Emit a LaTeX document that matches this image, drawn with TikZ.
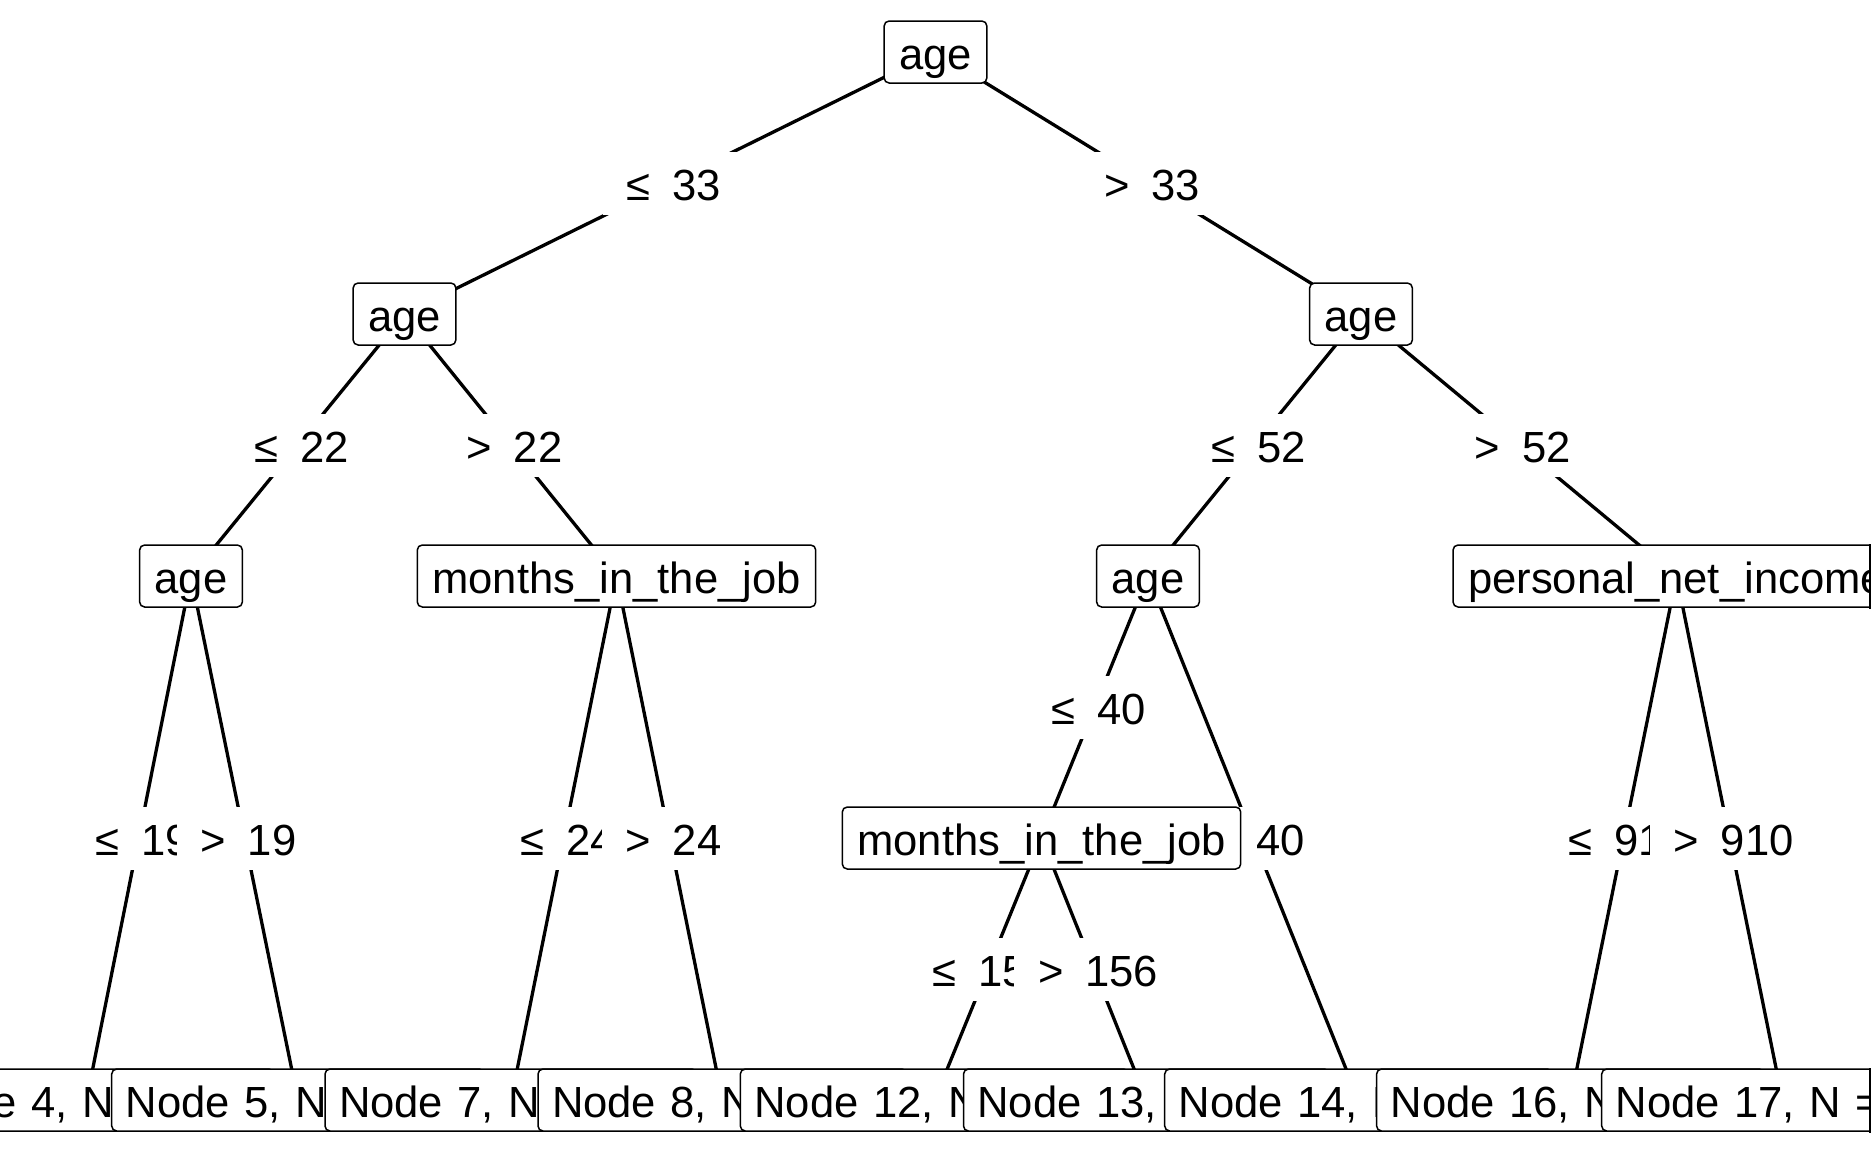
\documentclass[tikz,border=0pt]{standalone}
\usepackage{fontspec}
\setmainfont{Liberation Sans}
\usetikzlibrary{calc}
\pgfdeclarelayer{bglayer}
\pgfdeclarelayer{edgelayer}
\pgfdeclarelayer{labellayer}
\pgfsetlayers{bglayer,edgelayer,labellayer,main}
\begin{document}
\begin{tikzpicture}[x=1pt,y=-1pt,
  every node/.style={font=\fontsize{43.6}{50}\selectfont},
  innerbox/.style={draw, line width=1.5pt, rounded corners=5pt, fill=white,
    inner xsep=15pt, inner ysep=0pt, minimum height=62pt,
    text height=35pt, text depth=0pt},
  leafbox/.style={innerbox, align=left, inner xsep=14pt},
  lbl/.style={fill=white, inner xsep=24pt, inner ysep=0pt, minimum height=63pt,
    text height=35pt, text depth=0pt, xshift=4pt},
  conn/.style={line width=3.3pt}]
\useasboundingbox (0,0) rectangle (1872,1152);
\begin{pgfonlayer}{bglayer}
\fill[white] (0,0) rectangle (1872,1152);
\end{pgfonlayer}
\coordinate (rx) at (1870,0);

% inner nodes
\node[innerbox] (n1) at (935.5,52) {age};
\node[innerbox] (n2) at (404.5,314) {age};
\node[innerbox] (n9) at (1361,314) {age};
\node[innerbox] (n3) at (191,576) {age};
\node[innerbox] (n6) at (616.5,576) {months\_in\_the\_job};
\node[innerbox] (n10) at (1148,576) {age};
\node[innerbox] (n11) at (1041.5,838) {months\_in\_the\_job};
\begin{scope}
  \clip (0,0) rectangle (1870,1152);
  \node[innerbox] (n15) at (1676.5,576) {personal\_net\_income};
\end{scope}
\draw[line width=1.5pt, line cap=rect] (n15.north -| rx) -- (n15.south -| rx);

% terminal nodes (each covers the right part of the previous one)
\node[leafbox, text width=347pt] (t4) at (86.5,1100) {Node 4, N};
\node[leafbox, text width=344.6pt] (t5) at (298,1100) {Node 5, N};
\node[leafbox, text width=344pt] (t7) at (511,1100) {Node 7, N};
\node[leafbox, text width=341pt] (t8) at (722.5,1100) {Node 8, N};
\node[leafbox, text width=360.4pt] (t12) at (934.5,1100) {Node 12, N};
\node[leafbox, text width=338pt] (t13) at (1146.5,1100) {Node 13, N};
\node[leafbox, text width=359.6pt] (t14) at (1358.5,1100) {Node 14, N};
\node[leafbox, text width=359.8pt] (t16) at (1570.5,1100) {Node 16, N};
\begin{scope}
  \clip (0,0) rectangle (1870,1152);
  \node[leafbox, text width=333.6pt] (t17) at (1782.5,1100) {Node 17, N =};
\end{scope}
\draw[line width=1.5pt, line cap=rect] (t17.north -| rx) -- (t17.south -| rx);

% connectors
\begin{pgfonlayer}{edgelayer}
\draw[conn] (n1.center) -- (n2.center);
\draw[conn] (n1.center) -- (n9.center);
\draw[conn] (n2.center) -- (n3.center);
\draw[conn] (n2.center) -- (n6.center);
\draw[conn] (n3.center) -- (t4.center);
\draw[conn] (n3.center) -- (t5.center);
\draw[conn] (n6.center) -- (t7.center);
\draw[conn] (n6.center) -- (t8.center);
\draw[conn] (n9.center) -- (n10.center);
\draw[conn] (n9.center) -- (n15.center);
\draw[conn] (n10.center) -- (n11.center);
\draw[conn] (n10.center) -- (t14.center);
\draw[conn] (n11.center) -- (t12.center);
\draw[conn] (n11.center) -- (t13.center);
\draw[conn] (n15.center) -- (t16.center);
\draw[conn] (n15.center) -- (t17.center);
\end{pgfonlayer}

% edge labels
\begin{pgfonlayer}{labellayer}
\node[lbl] (e2) at ($(n1.center)!0.5!(n2.center)$) {≤\hspace{0.5em}33};
\node[lbl] (e9) at ($(n1.center)!0.5!(n9.center)$) {>\hspace{0.5em}33};
\node[lbl] (e3) at ($(n2.center)!0.5!(n3.center)$) {≤\hspace{0.5em}22};
\node[lbl] (e6) at ($(n2.center)!0.5!(n6.center)$) {>\hspace{0.5em}22};
\node[lbl] (e4) at ($(n3.center)!0.5!(t4.center)$) {≤\hspace{0.5em}19};
\node[lbl] (e5) at ($(n3.center)!0.5!(t5.center)$) {>\hspace{0.5em}19};
\node[lbl] (e7) at ($(n6.center)!0.5!(t7.center)$) {≤\hspace{0.5em}24};
\node[lbl] (e8) at ($(n6.center)!0.5!(t8.center)$) {>\hspace{0.5em}24};
\node[lbl] (e10) at ($(n9.center)!0.5!(n10.center)$) {≤\hspace{0.5em}52};
\node[lbl] (e15) at ($(n9.center)!0.5!(n15.center)$) {>\hspace{0.5em}52};
\node[lbl] (e11) at ($(n10.center)!0.5!(n11.center)$) {≤\hspace{0.5em}40};
\node[lbl] (e14) at ($(n10.center)!0.5!(t14.center)$) {>\hspace{0.5em}40};
\node[lbl] (e12) at ($(n11.center)!0.5!(t12.center)$) {≤\hspace{0.5em}156};
\node[lbl] (e13) at ($(n11.center)!0.5!(t13.center)$) {>\hspace{0.5em}156};
\node[lbl] (e16) at ($(n15.center)!0.5!(t16.center)$) {≤\hspace{0.5em}910};
\node[lbl] (e17) at ($(n15.center)!0.5!(t17.center)$) {>\hspace{0.5em}910};
\end{pgfonlayer}
\end{tikzpicture}
\end{document}
